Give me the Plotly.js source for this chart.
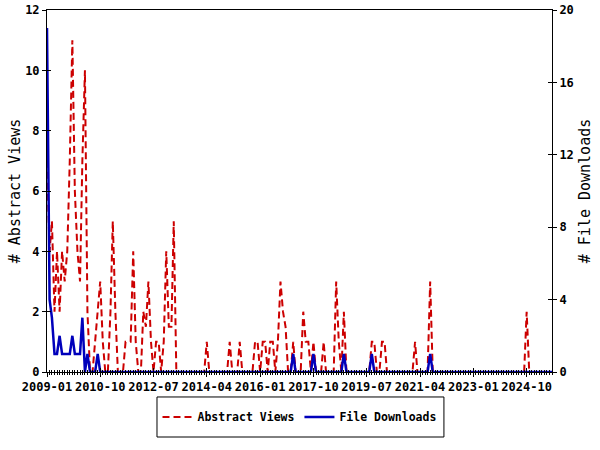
<!DOCTYPE html>
<html><head><meta charset="utf-8">
<script src="https://cdn.plot.ly/plotly-3.0.1.min.js"></script>
<style>html,body{margin:0;padding:0;background:#fff}#chart{width:600px;height:450px}</style>
</head><body><div id="chart"></div>
<script>
// Monthly categories 2009-01 .. 2025-08
const startYear = 2009;
const monthCount = 200;
const months = [];
for (let i = 0; i < monthCount; i++) {
  const y = startYear + Math.floor(i / 12);
  const m = (i % 12) + 1;
  months.push(y + '-' + String(m).padStart(2, '0') + '-01');
}

const abstractViews = [
  7,4,5,2,4,2,4,3,4,7,
  11,6,4,3,7,10,2,0,0,1,
  2,3,1,0,0,2,5,2,0,0,
  0,1,1,1,4,1,0,0,2,1.5,
  3,1,0,1,1,0,1,4,1.5,1.5,
  5,0,0,0,0,0,0,0,0,0,
  0,0,0,1,0,0,0,0,0,0,
  0,0,1,0,0,0,1,0,0,0,
  0,0,1,1,0,1,1,0,1,1,
  0,1,3,2,1.5,0,0,1,0,0,
  0,2,1,1,0,1,0,0,0,1,
  0,0,0,0,3,1,0,2,0,0,
  0,0,0,0,0,0,0,0,1,1,
  0,0,1,1,0,0,0,0,0,0,
  0,0,0,0,0,1,0,0,0,0,
  0,3,0,0,0,0,0,0,0,0,
  0,0,0,0,0,0,0,0,0,0,
  0,0,0,0,0,0,0,0,0,0,
  0,0,0,0,0,0,0,0,0,2,
  0,0,0,0,0,0,0,0,0,0
];

const fileDownloads = [
  19,4,3,1,1,2,1,1,1,1,
  2,1,1,1,3,0,1,0,0,0,
  1,0,0,0,0,0,0,0,0,0,
  0,0,0,0,0,0,0,0,0,0,
  0,0,0,0,0,0,0,0,0,0,
  0,0,0,0,0,0,0,0,0,0,
  0,0,0,0,0,0,0,0,0,0,
  0,0,0,0,0,0,0,0,0,0,
  0,0,0,0,0,0,0,0,0,0,
  0,0,0,0,0,0,0,1,0,0,
  0,0,0,0,0,1,0,0,0,0,
  0,0,0,0,0,0,0,1,0,0,
  0,0,0,0,0,0,0,0,1,0,
  0,0,0,0,0,0,0,0,0,0,
  0,0,0,0,0,0,0,0,0,0,
  0,1,0,0,0,0,0,0,0,0,
  0,0,0,0,0,0,0,0,0,0,
  0,0,0,0,0,0,0,0,0,0,
  0,0,0,0,0,0,0,0,0,0,
  0,0,0,0,0,0,0,0,0,0
];

const xRange = ['2009-01-01', '2025-08-01'];
const FONT = {family: 'DejaVu Sans Mono', size: 12, color: '#000', weight: 'bold'};
const LEGENDFONT = {family: 'DejaVu Sans Mono', size: 11.5, color: '#000', weight: 'bold'};
const TITLEFONT = {family: 'DejaVu Sans Mono', size: 15, color: '#000', weight: 'normal'};

const traces = [
  {x: months, y: abstractViews, name: 'Abstract Views', type: 'scatter', mode: 'lines',
   line: {color: '#cc0000', width: 2, dash: '7px,4px'}, xaxis: 'x', yaxis: 'y'},
  {x: months, y: fileDownloads, name: 'File Downloads', type: 'scatter', mode: 'lines',
   line: {color: '#0000bb', width: 2.5}, xaxis: 'x', yaxis: 'y2'},
  {x: months, y: abstractViews, type: 'scatter', mode: 'none', showlegend: false,
   hoverinfo: 'skip', xaxis: 'x2', yaxis: 'y3'},
  {x: months, y: fileDownloads, type: 'scatter', mode: 'none', showlegend: false,
   hoverinfo: 'skip', xaxis: 'x2', yaxis: 'y4'}
];

const minorOut = {dtick: 'M1', tick0: '2009-01-01', ticks: 'outside', ticklen: 2, tickcolor: '#000', showgrid: false};
const minorIn = {dtick: 'M1', tick0: '2009-01-01', ticks: 'inside', ticklen: 2, tickcolor: '#000', showgrid: false};

// legend frame (paper coordinates)
const legendBox = {x0: 0.2178, x1: 0.786, y0: -0.069, y1: -0.1796};

const layout = {
  width: 600, height: 450,
  margin: {l: 47, r: 48, t: 10, b: 78},
  paper_bgcolor: '#fff', plot_bgcolor: '#fff',
  showlegend: true,
  xaxis: {type: 'date', range: xRange, tick0: '2009-01-01', dtick: 'M21', tickformat: '%Y-%m',
    tickangle: 0, ticks: 'outside', ticklen: 4, tickwidth: 1, tickcolor: '#000',
    showline: true, linecolor: '#000', linewidth: 1, mirror: true,
    showgrid: false, zeroline: false, minor: minorOut, tickfont: FONT, anchor: 'y'},
  xaxis2: {type: 'date', range: xRange, tick0: '2009-01-01', dtick: 'M21', overlaying: 'x', anchor: 'y3',
    side: 'bottom', ticks: 'inside', ticklen: 4, tickcolor: '#000', showticklabels: false,
    showline: false, showgrid: false, zeroline: false, minor: minorIn},
  yaxis: {range: [0, 12], dtick: 2, ticks: 'outside', ticklen: 4, tickcolor: '#000',
    showline: true, linecolor: '#000', linewidth: 1, showgrid: false, zeroline: false,
    tickfont: FONT, title: {text: '# Abstract Views', font: TITLEFONT, standoff: 0}, anchor: 'x'},
  yaxis2: {range: [0, 20], dtick: 4, overlaying: 'y', side: 'right', anchor: 'x',
    ticks: 'outside', ticklen: 4, tickcolor: '#000',
    showline: true, linecolor: '#000', linewidth: 1, showgrid: false, zeroline: false,
    tickfont: FONT, title: {text: '# File Downloads', font: TITLEFONT, standoff: 6}},
  yaxis3: {range: [0, 12], dtick: 2, overlaying: 'y', side: 'left', anchor: 'x2',
    ticks: 'inside', ticklen: 4, tickcolor: '#000', showticklabels: false,
    showline: false, showgrid: false, zeroline: false},
  yaxis4: {range: [0, 20], dtick: 4, overlaying: 'y', side: 'right', anchor: 'x2',
    ticks: 'inside', ticklen: 4, tickcolor: '#000', showticklabels: false,
    showline: false, showgrid: false, zeroline: false},
  legend: {orientation: 'h', x: 0.5, xanchor: 'center', y: (legendBox.y0 + legendBox.y1) / 2,
    yanchor: 'middle', borderwidth: 0, bgcolor: 'rgba(0,0,0,0)', font: LEGENDFONT},
  shapes: [{type: 'rect', xref: 'paper', yref: 'paper', x0: legendBox.x0, x1: legendBox.x1,
    y0: legendBox.y0, y1: legendBox.y1, line: {color: '#000', width: 1}, fillcolor: '#fff', layer: 'below'}]
};

Plotly.newPlot('chart', traces, layout, {displayModeBar: false, staticPlot: true});
</script>
</body></html>
